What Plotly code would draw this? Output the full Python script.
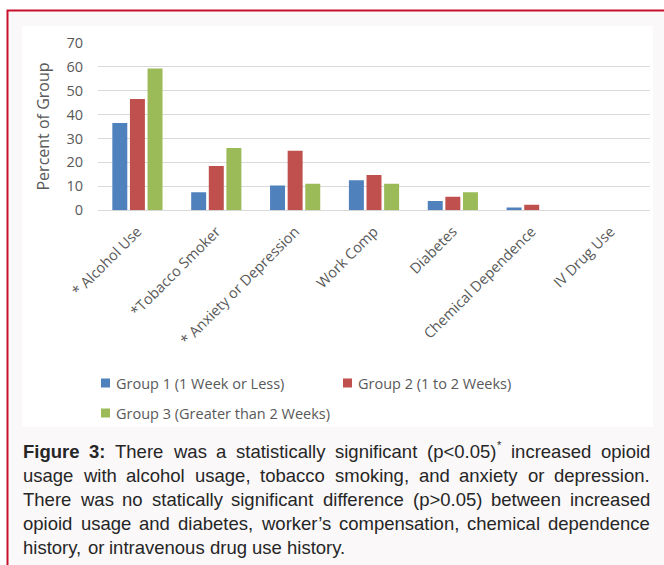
import plotly.graph_objects as go

# ---- data -------------------------------------------------------------
categories = ["* Alcohol Use", "*Tobacco Smoker", "* Anxiety or Depression",
              "Work Comp", "Diabetes", "Chemical Dependence", "IV Drug Use"]
group1 = [36.5, 7.5, 10.4, 12.5, 3.9, 1.2, 0]
group2 = [46.5, 18.5, 24.9, 14.7, 5.7, 2.3, 0]
group3 = [59.2, 26.0, 11.1, 11.1, 7.5, 0, 0]
series_names = ["Group 1 (1 Week or Less)", "Group 2 (1 to 2 Weeks)",
                "Group 3 (Greater than 2 Weeks)"]
series_colors = ["#4F81BD", "#C0504D", "#9BBB59"]
y_ticks = [0, 10, 20, 30, 40, 50, 60, 70]
y_title = "Percent of Group"

# caption words per line; a "^" prefix marks a superscript token
caption_lines = [
    ["<b>Figure</b>", "<b>3:</b>", "There", "was", "a", "statistically", "significant",
     "(p&lt;0.05)^*", "increased", "opioid"],
    ["usage", "with", "alcohol", "usage,", "tobacco", "smoking,", "and", "anxiety",
     "or", "depression."],
    ["There", "was", "no", "statically", "significant", "difference", "(p&gt;0.05)",
     "between", "increased"],
    ["opioid", "usage", "and", "diabetes,", "worker\u2019s", "compensation,", "chemical",
     "dependence"],
    ["history,", "or", "intravenous", "drug", "use", "history."],
]

# ---- page geometry (pixels) -------------------------------------------
W, H = 664, 565
def px(x):
    return x / W
def py(y):
    return 1 - y / H

PLOT_L, PLOT_R = 98, 650
PLOT_T, PLOT_B = 42.7, 210.3

GREY = "#595959"
TICK_FONT = dict(family="Open Sans", size=14.5, color=GREY)

fig = go.Figure()
for name, vals, col in zip(series_names, [group1, group2, group3], series_colors):
    fig.add_trace(go.Bar(x=categories, y=vals, name=name, marker_color=col,
                         marker_line_width=0, showlegend=False))

fig.update_layout(
    width=W, height=H, autosize=False,
    margin=dict(l=0, r=0, t=0, b=0),
    paper_bgcolor="white", plot_bgcolor="rgba(0,0,0,0)",
    barmode="group", bargap=0.33, bargroupgap=0.15,
    xaxis=dict(domain=[px(PLOT_L), px(PLOT_R)], showgrid=False, zeroline=False,
               showline=False, ticks="", tickangle=-45, tickfont=TICK_FONT,
               ticklabelstandoff=9, automargin=False, fixedrange=True),
    yaxis=dict(domain=[py(PLOT_B), py(PLOT_T)], range=[0, 70], tickvals=y_ticks,
               showgrid=True, gridcolor="#D9D9D9", gridwidth=1,
               zeroline=True, zerolinecolor="#D9D9D9", zerolinewidth=1,
               showline=False, ticks="", ticklabelstandoff=14,
               tickfont=TICK_FONT, automargin=False, fixedrange=True),
)

# ---- framed box and white chart panel ---------------------------------
shapes = [
    dict(type="rect", xref="paper", yref="paper", x0=px(7.5), x1=px(W + 10),
         y0=py(H + 10), y1=py(10.5), line=dict(color="#C8102E", width=2),
         fillcolor="#FAF8F9", layer="below"),
    dict(type="rect", xref="paper", yref="paper", x0=px(22), x1=px(653),
         y0=py(427), y1=py(26), line=dict(width=0), fillcolor="white", layer="below"),
]

annotations = [
    dict(text=y_title, xref="paper", yref="paper", x=px(42), y=py((PLOT_T + PLOT_B) / 2),
         textangle=-90, showarrow=False, font=dict(family="Open Sans", size=16, color=GREY),
         xanchor="center", yanchor="middle"),
]

# ---- legend drawn as swatches + labels ---------------------------------
legend_slots = [(101, 383), (343, 383), (101, 413)]
SW = 9
for (lx, ly), name, col in zip(legend_slots, series_names, series_colors):
    shapes.append(dict(type="rect", xref="paper", yref="paper", x0=px(lx), x1=px(lx + SW),
                       y0=py(ly + SW / 2), y1=py(ly - SW / 2), line=dict(width=0),
                       fillcolor=col))
    annotations.append(dict(text=name, xref="paper", yref="paper", x=px(lx + 15), y=py(ly),
                            xanchor="left", yanchor="middle", showarrow=False,
                            borderpad=0, borderwidth=0,
                            font=dict(family="Open Sans", size=14.5, color=GREY)))

# ---- justified caption (Arial/Helvetica advance widths, 1/1000 em) -----
REG = {" ": 278, "(": 333, ")": 333, "*": 389, ",": 278, ".": 278, "<": 584, ">": 584,
       "\u2019": 222, ":": 278, "T": 611, "F": 611,
       "a": 556, "b": 556, "c": 500, "d": 556, "e": 556, "f": 278, "g": 556, "h": 556,
       "i": 222, "j": 222, "k": 500, "l": 222, "m": 833, "n": 556, "o": 556, "p": 556,
       "q": 556, "r": 333, "s": 500, "t": 278, "u": 556, "v": 500, "w": 722, "x": 500,
       "y": 500, "z": 500}
for d in "0123456789":
    REG[d] = 556
BOLD = {" ": 278, "F": 611, "i": 278, "g": 611, "u": 611, "r": 389, "e": 556, "3": 556, ":": 333}

CAP_SIZE = 18.5
SUP_SIZE = 11
CAP_L, CAP_R = 23, 650
CAP_Y0, CAP_DY = 451, 24
CAP_FONT = "Liberation Sans"
CAP_COLOR = "#262626"

def plain(tok):
    return (tok.replace("<b>", "").replace("</b>", "").replace("&lt;", "<")
               .replace("&gt;", ">"))

def text_width(tok, size):
    table = BOLD if "<b>" in tok else REG
    return sum(table.get(c, 556) for c in plain(tok)) * size / 1000

def word_parts(tok):
    # split a token into (main text, superscript text)
    if "^" in tok:
        main, sup = tok.split("^")
        return main, sup
    return tok, ""

def word_width(tok):
    main, sup = word_parts(tok)
    return text_width(main, CAP_SIZE) + (text_width(sup, SUP_SIZE) + 1 if sup else 0)

def caption_text(text, x, y, size):
    return dict(text=text, xref="paper", yref="paper", x=px(x), y=py(y),
                xanchor="left", yanchor="middle", showarrow=False,
                borderpad=0, borderwidth=0,
                font=dict(family=CAP_FONT, size=size, color=CAP_COLOR))

for i, words in enumerate(caption_lines):
    y = CAP_Y0 + i * CAP_DY
    widths = [word_width(w) for w in words]
    last = i == len(caption_lines) - 1
    if last:
        gap = REG[" "] * CAP_SIZE / 1000
    else:
        gap = (CAP_R - CAP_L - sum(widths)) / (len(words) - 1)
    x = CAP_L
    for w, wd in zip(words, widths):
        main, sup = word_parts(w)
        annotations.append(caption_text(main, x, y, CAP_SIZE))
        if sup:
            annotations.append(caption_text(sup, x + text_width(main, CAP_SIZE) + 1,
                                            y - 6, SUP_SIZE))
        x += wd + gap

fig.update_layout(shapes=shapes, annotations=annotations)
fig.write_html("out.html")
